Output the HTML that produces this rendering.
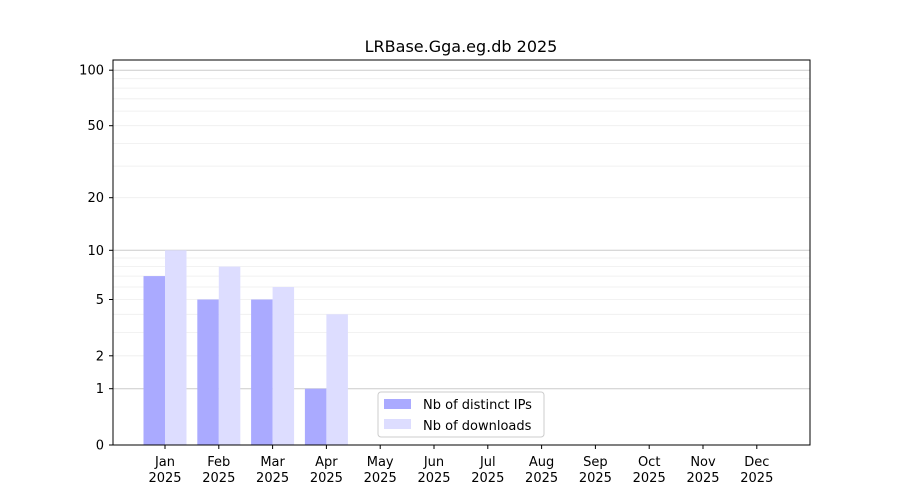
<!DOCTYPE html>
<html><head><meta charset="utf-8"><style>body{margin:0;background:#fff}svg{display:block}text{font-family:"DejaVu Sans","Liberation Sans",sans-serif;font-size:13px;fill:#000}</style></head><body>
<svg width="900" height="500" xmlns="http://www.w3.org/2000/svg">
<rect width="900" height="500" fill="#fff"/>
<g stroke="#eee" stroke-width="0.8">
<line x1="113" x2="810" y1="355.8" y2="355.8"/><line x1="113" x2="810" y1="332.4" y2="332.4"/><line x1="113" x2="810" y1="314.3" y2="314.3"/><line x1="113" x2="810" y1="299.5" y2="299.5"/><line x1="113" x2="810" y1="287" y2="287"/><line x1="113" x2="810" y1="276.1" y2="276.1"/><line x1="113" x2="810" y1="266.6" y2="266.6"/><line x1="113" x2="810" y1="258" y2="258"/>
<line x1="113" x2="810" y1="197.7" y2="197.7"/><line x1="113" x2="810" y1="166.1" y2="166.1"/><line x1="113" x2="810" y1="143.4" y2="143.4"/><line x1="113" x2="810" y1="125.7" y2="125.7"/><line x1="113" x2="810" y1="111.1" y2="111.1"/><line x1="113" x2="810" y1="98.8" y2="98.8"/><line x1="113" x2="810" y1="88.1" y2="88.1"/><line x1="113" x2="810" y1="78.7" y2="78.7"/>
</g>
<g stroke="#ccc" stroke-width="1">
<line x1="113" x2="810" y1="388.7" y2="388.7"/><line x1="113" x2="810" y1="250.3" y2="250.3"/><line x1="113" x2="810" y1="70.2" y2="70.2"/>
</g>
<text x="461" y="52" text-anchor="middle" style="font-size:16px">LRBase.Gga.eg.db 2025</text>
<g fill="#aaaaff">
<rect x="143.5" y="276.1" width="21.5" height="168.9"/><rect x="197.3" y="299.5" width="21.5" height="145.5"/><rect x="251.1" y="299.5" width="21.5" height="145.5"/><rect x="304.9" y="388.7" width="21.5" height="56.3"/>
</g>
<g fill="#ddddff">
<rect x="165" y="250.3" width="21.5" height="194.7"/><rect x="218.8" y="266.6" width="21.5" height="178.4"/><rect x="272.6" y="287" width="21.5" height="158"/><rect x="326.4" y="314.3" width="21.5" height="130.7"/>
</g>
<rect x="113" y="60" width="697" height="385" fill="none" stroke="#000" stroke-width="1"/>
<g stroke="#000">
<line x1="109" x2="113" y1="445" y2="445"/><line x1="109" x2="113" y1="388.7" y2="388.7"/><line x1="109" x2="113" y1="355.8" y2="355.8"/><line x1="109" x2="113" y1="299.5" y2="299.5"/><line x1="109" x2="113" y1="250.3" y2="250.3"/><line x1="109" x2="113" y1="197.7" y2="197.7"/><line x1="109" x2="113" y1="125.7" y2="125.7"/><line x1="109" x2="113" y1="70.2" y2="70.2"/>
<line x1="165" x2="165" y1="445" y2="449"/><line x1="218.8" x2="218.8" y1="445" y2="449"/><line x1="272.6" x2="272.6" y1="445" y2="449"/><line x1="326.4" x2="326.4" y1="445" y2="449"/><line x1="380.2" x2="380.2" y1="445" y2="449"/><line x1="434" x2="434" y1="445" y2="449"/><line x1="487.8" x2="487.8" y1="445" y2="449"/><line x1="541.6" x2="541.6" y1="445" y2="449"/><line x1="595.4" x2="595.4" y1="445" y2="449"/><line x1="649.2" x2="649.2" y1="445" y2="449"/><line x1="703" x2="703" y1="445" y2="449"/><line x1="756.8" x2="756.8" y1="445" y2="449"/>
</g>
<g text-anchor="end">
<text x="104" y="449.5">0</text><text x="104" y="393.2">1</text><text x="104" y="360.3">2</text><text x="104" y="304">5</text><text x="104" y="254.8">10</text><text x="104" y="202.2">20</text><text x="104" y="130.2">50</text><text x="104" y="74.7">100</text>
</g>
<g text-anchor="middle">
<text x="165" y="466">Jan</text><text x="165" y="482">2025</text>
<text x="218.8" y="466">Feb</text><text x="218.8" y="482">2025</text>
<text x="272.6" y="466">Mar</text><text x="272.6" y="482">2025</text>
<text x="326.4" y="466">Apr</text><text x="326.4" y="482">2025</text>
<text x="380.2" y="466">May</text><text x="380.2" y="482">2025</text>
<text x="434" y="466">Jun</text><text x="434" y="482">2025</text>
<text x="487.8" y="466">Jul</text><text x="487.8" y="482">2025</text>
<text x="541.6" y="466">Aug</text><text x="541.6" y="482">2025</text>
<text x="595.4" y="466">Sep</text><text x="595.4" y="482">2025</text>
<text x="649.2" y="466">Oct</text><text x="649.2" y="482">2025</text>
<text x="703" y="466">Nov</text><text x="703" y="482">2025</text>
<text x="756.8" y="466">Dec</text><text x="756.8" y="482">2025</text>
</g>
<rect x="378" y="392" width="166" height="45" rx="3" fill="#fff" fill-opacity="0.8" stroke="#ccc"/>
<rect x="384" y="399" width="27" height="10" fill="#aaaaff"/>
<text x="423" y="409">Nb of distinct IPs</text>
<rect x="384" y="419" width="27" height="10" fill="#ddddff"/>
<text x="423" y="430">Nb of downloads</text>
</svg>
</body></html>
